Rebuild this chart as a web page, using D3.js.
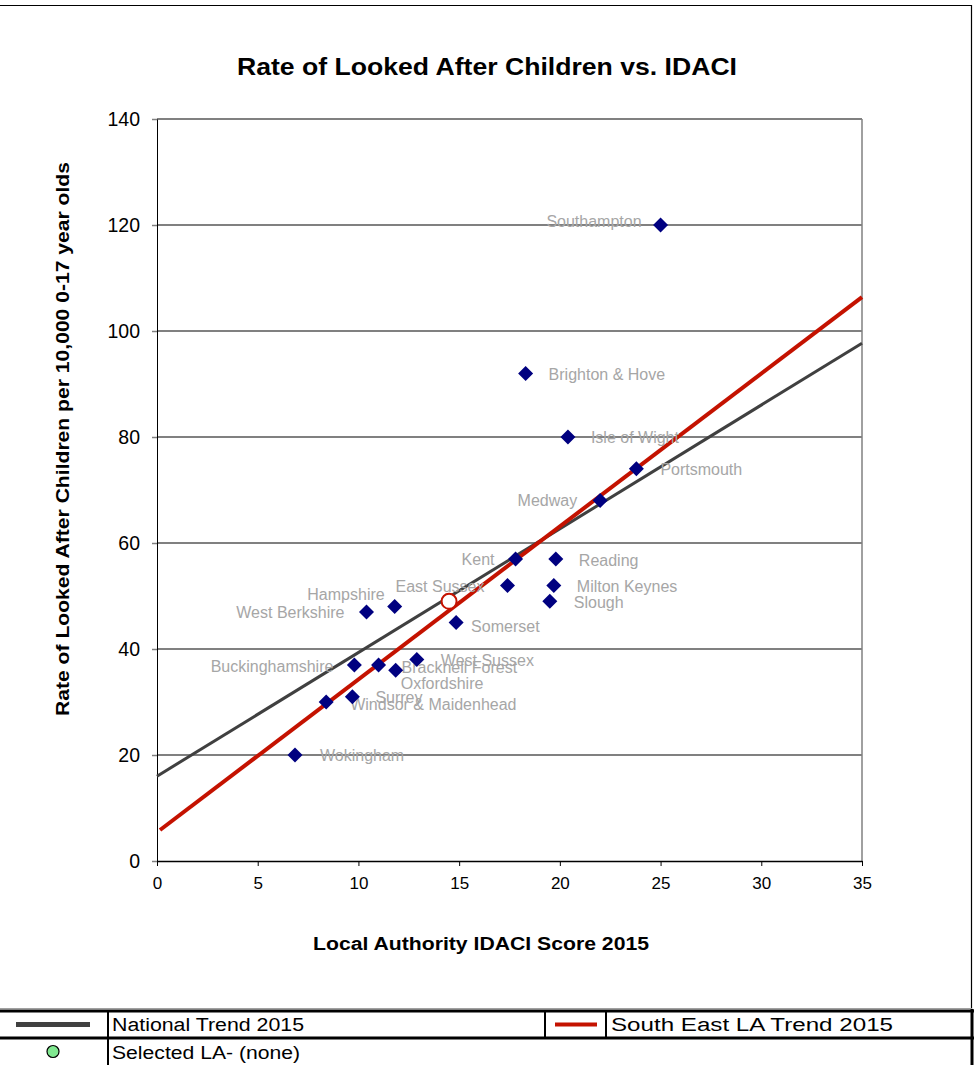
<!DOCTYPE html>
<html>
<head>
<meta charset="utf-8">
<script src="https://cdn.jsdelivr.net/npm/d3@7"></script>
<style>
  html, body { margin: 0; padding: 0; background: #fff; }
  svg { display: block; font-family: "Liberation Sans", Arial, sans-serif; }
</style>
</head>
<body>
<svg id="chart" width="977" height="1065"></svg>
<script>
// ---------- data ----------
const laNames = ["Southampton", "Brighton & Hove", "Isle of Wight", "Portsmouth", "Medway",
  "Kent", "Reading", "Milton Keynes", "East Sussex", "Slough", "Somerset", "Hampshire",
  "West Berkshire", "West Sussex", "Bracknell Forest", "Oxfordshire", "Buckinghamshire",
  "Surrey", "Windsor & Maidenhead", "Wokingham"];
const idaciScores = [25.0, 18.3, 20.4, 23.8, 22.0, 17.8, 19.8, 19.7, 17.4, 19.5, 14.85, 11.8,
  10.4, 12.9, 11.0, 11.85, 9.8, 9.7, 8.4, 6.85];
const lacRates = [120, 92, 80, 74, 68, 57, 57, 52, 52, 49, 45, 48, 47, 38, 37, 36, 37, 31, 30, 20];

const regionAvgX = [14.5];
const regionAvgY = [49];

const nationalTrendX = [0, 35];
const nationalTrendY = [16, 97.7];
const seTrendX = [0.15, 35];
const seTrendY = [5.85, 106.4];

const xTicks = [0, 5, 10, 15, 20, 25, 30, 35];
const yTicks = [0, 20, 40, 60, 80, 100, 120, 140];

const chartTitle = "Rate of Looked After Children vs. IDACI";
const xTitle = "Local Authority IDACI Score 2015";
const yTitle = "Rate of Looked After Children per 10,000 0-17 year olds";
const legendNational = "National Trend 2015";
const legendSE = "South East LA Trend 2015";
const legendSelected = "Selected LA- (none)";

// label placement (anchor, dx, dy) per LA name
const labelPlacement = {
  "Southampton": ["end", -19, -4],
  "Brighton & Hove": ["start", 23, 1],
  "Isle of Wight": ["start", 23, 0],
  "Portsmouth": ["start", 24, 1],
  "Medway": ["end", -23, 0],
  "Kent": ["end", -21, 0],
  "Reading": ["start", 23, 1],
  "Milton Keynes": ["start", 23, 1],
  "East Sussex": ["end", -23, 1],
  "Slough": ["start", 24, 1],
  "Somerset": ["start", 15, 4],
  "Hampshire": ["end", -10, -12],
  "West Berkshire": ["end", -22, 0],
  "West Sussex": ["start", 24, 1],
  "Bracknell Forest": ["start", 23, 2],
  "Oxfordshire": ["start", 5, 13],
  "Buckinghamshire": ["end", -21, 1],
  "Surrey": ["start", 23, 1],
  "Windsor & Maidenhead": ["start", 24, 2],
  "Wokingham": ["start", 25, 0]
};

// ---------- layout ----------
const svg = d3.select("#chart");
const plot = { left: 157, right: 862, top: 119, bottom: 861 };

const x = d3.scaleLinear().domain([0, 35]).range([plot.left, plot.right]);
const y = d3.scaleLinear().domain([0, 140]).range([plot.bottom, plot.top]);

// outer chart frame
svg.append("line").attr("x1", 0).attr("x2", 972).attr("y1", 5.5).attr("y2", 5.5)
  .attr("stroke", "#000").attr("stroke-width", 1.2);
svg.append("line").attr("x1", 971.5).attr("x2", 971.5).attr("y1", 5).attr("y2", 1009)
  .attr("stroke", "#000").attr("stroke-width", 1.2);
svg.append("line").attr("x1", 0).attr("x2", 972).attr("y1", 1008.5).attr("y2", 1008.5)
  .attr("stroke", "#a0a0a0").attr("stroke-width", 1);

// gridlines
svg.append("g").selectAll("line").data(yTicks.filter(d => d > 0)).join("line")
  .attr("x1", plot.left).attr("x2", plot.right)
  .attr("y1", d => y(d)).attr("y2", d => y(d))
  .attr("stroke", "#808080").attr("stroke-width", 2);

// plot right border
svg.append("line").attr("x1", plot.right).attr("x2", plot.right)
  .attr("y1", plot.top).attr("y2", plot.bottom)
  .attr("stroke", "#808080").attr("stroke-width", 1.5);

// y axis
const yAxis = d3.axisLeft(y).tickValues(yTicks).tickSize(5).tickPadding(12).tickSizeOuter(0);
const gy = svg.append("g").attr("transform", `translate(${plot.left},0)`).call(yAxis);
gy.select(".domain").attr("stroke", "#000").attr("stroke-width", 1);
gy.selectAll(".tick line").attr("stroke", "#808080").attr("stroke-width", 1.5);
gy.selectAll(".tick text").attr("font-size", 19.5).attr("fill", "#000")
  .attr("font-family", "Liberation Sans, Arial, sans-serif");

// x axis
const xAxis = d3.axisBottom(x).tickValues(xTicks).tickSize(5).tickPadding(11).tickSizeOuter(0);
const gx = svg.append("g").attr("transform", `translate(0,${plot.bottom})`).call(xAxis);
gx.select(".domain").attr("stroke", "#000").attr("stroke-width", 1.5);
gx.selectAll(".tick line").attr("stroke", "#000").attr("stroke-width", 1);
gx.selectAll(".tick text").attr("font-size", 17).attr("fill", "#000")
  .attr("font-family", "Liberation Sans, Arial, sans-serif");

// trend lines
const line = d3.line().x(d => x(d[0])).y(d => y(d[1]));
svg.append("path").datum(d3.zip(nationalTrendX, nationalTrendY))
  .attr("d", line).attr("stroke", "#404040").attr("stroke-width", 3).attr("fill", "none");
svg.append("path").datum(d3.zip(seTrendX, seTrendY))
  .attr("d", line).attr("stroke", "#c41200").attr("stroke-width", 4).attr("fill", "none");

// points
const pts = laNames.map((n, i) => ({ name: n, x: idaciScores[i], y: lacRates[i] }));

// labels
svg.append("g").selectAll("text").data(pts).join("text")
  .attr("x", d => x(d.x) + labelPlacement[d.name][1])
  .attr("y", d => y(d.y) + labelPlacement[d.name][2])
  .attr("dy", "0.35em")
  .attr("text-anchor", d => labelPlacement[d.name][0])
  .attr("font-size", 16).attr("fill", "#a6a6a6")
  .text(d => d.name);

const diamond = "M0,-7.5L7.5,0L0,7.5L-7.5,0Z";
svg.append("g").selectAll("path").data(pts).join("path")
  .attr("d", diamond)
  .attr("transform", d => `translate(${x(d.x)},${y(d.y)})`)
  .attr("fill", "#000080");

// regional average marker
svg.append("g").selectAll("circle").data(d3.zip(regionAvgX, regionAvgY)).join("circle")
  .attr("cx", d => x(d[0])).attr("cy", d => y(d[1])).attr("r", 7.5)
  .attr("fill", "#fff").attr("stroke", "#c41200").attr("stroke-width", 2);

// titles
svg.append("text").attr("x", 487).attr("y", 75).attr("text-anchor", "middle")
  .attr("font-size", 23).attr("font-weight", "bold")
  .attr("textLength", 500).attr("lengthAdjust", "spacingAndGlyphs").text(chartTitle);
svg.append("text").attr("x", 481).attr("y", 950).attr("text-anchor", "middle")
  .attr("font-size", 18).attr("font-weight", "bold")
  .attr("textLength", 336).attr("lengthAdjust", "spacingAndGlyphs").text(xTitle);
svg.append("text").attr("transform", "translate(69,439) rotate(-90)").attr("text-anchor", "middle")
  .attr("font-size", 17.5).attr("font-weight", "bold")
  .attr("textLength", 554).attr("lengthAdjust", "spacingAndGlyphs").text(yTitle);

// ---------- legend table ----------
const lg = svg.append("g");
const tl = (x1, y1, x2, y2, w) => lg.append("line").attr("x1", x1).attr("y1", y1)
  .attr("x2", x2).attr("y2", y2).attr("stroke", "#000").attr("stroke-width", w);
tl(0, 1011, 974, 1011, 3);
tl(0, 1038, 974, 1038, 3);
tl(108, 1011, 108, 1065, 2);
tl(545, 1011, 545, 1038, 2);
tl(606, 1011, 606, 1038, 2);
tl(972, 1009, 972, 1065, 3);

lg.append("line").attr("x1", 16).attr("x2", 90).attr("y1", 1024.5).attr("y2", 1024.5)
  .attr("stroke", "#404040").attr("stroke-width", 5);
lg.append("line").attr("x1", 555).attr("x2", 597).attr("y1", 1024.5).attr("y2", 1024.5)
  .attr("stroke", "#c41200").attr("stroke-width", 4);
lg.append("circle").attr("cx", 53).attr("cy", 1051.5).attr("r", 6)
  .attr("fill", "#80e890").attr("stroke", "#000").attr("stroke-width", 1.2);

lg.append("text").attr("x", 112).attr("y", 1031).attr("font-size", 18)
  .attr("textLength", 192).attr("lengthAdjust", "spacingAndGlyphs").text(legendNational);
lg.append("text").attr("x", 611).attr("y", 1031).attr("font-size", 18)
  .attr("textLength", 282).attr("lengthAdjust", "spacingAndGlyphs").text(legendSE);
lg.append("text").attr("x", 112).attr("y", 1059).attr("font-size", 18)
  .attr("textLength", 188).attr("lengthAdjust", "spacingAndGlyphs").text(legendSelected);
</script>
</body>
</html>
